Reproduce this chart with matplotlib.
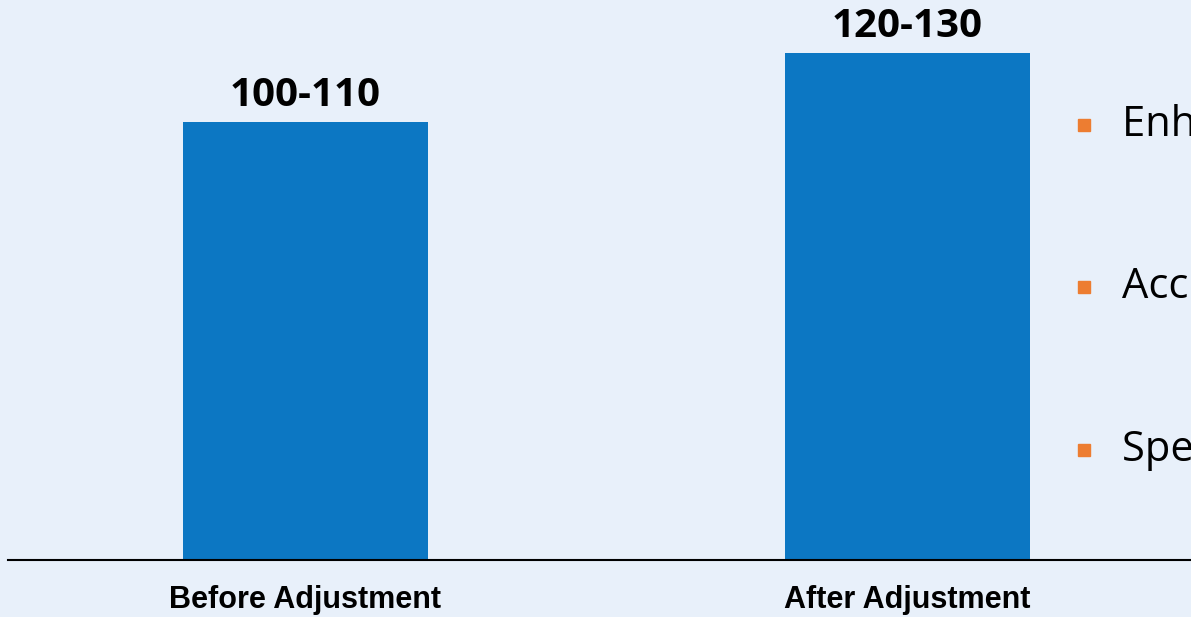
import matplotlib
matplotlib.use("Agg")
import matplotlib.pyplot as plt

# Datos del gráfico
categorias = ["Before Adjustment", "After Adjustment"]
valores = [105, 125]
etiquetas = ["100-110", "120-130"]
puntos = ["Enhanced stability", "Accurate positioning", "Speed improvement"]

fondo = "#E8F0FA"
azul = "#0C77C3"
naranja = "#ED7D31"
base = -22  # el eje no empieza en cero

fig = plt.figure(figsize=(11.91, 6.17), dpi=100)
fig.patch.set_facecolor(fondo)

# Ejes ocupando casi toda la figura
ax = fig.add_axes([8 / 1191, 57 / 617, 1183 / 1191, 560 / 617])
ax.set_facecolor(fondo)

x = list(range(len(categorias)))
alturas = [v - base for v in valores]
barras = ax.bar(x, alturas, bottom=base, width=0.407, color=azul, zorder=2)

ax.set_xlim(-0.494, 1.471)
ax.set_ylim(base, 140.4)

for b, v, txt in zip(barras, valores, etiquetas):
    ax.text(b.get_x() + b.get_width() / 2, v + 2.0, txt,
            ha="center", va="bottom", fontsize=29, fontweight="bold",
            family=["Open Sans", "DejaVu Sans"], color="black")

for s in ["top", "right", "left"]:
    ax.spines[s].set_visible(False)
ax.spines["bottom"].set_linewidth(1.5)
ax.set_yticks([])
ax.set_xticks(x)
ax.set_xticklabels(categorias, fontsize=22, fontweight="bold",
                   family=["Liberation Sans", "DejaVu Sans"])
ax.tick_params(axis="x", length=0, pad=18)

# Lista con viñetas a la derecha (recortada por el borde)
ys = [125, 287, 450]
for txt, yp in zip(puntos, ys):
    yf = 1 - yp / 617
    fig.patches.append(plt.Rectangle((1078 / 1191, yf - 6 / 617), 12 / 1191, 12 / 617,
                                     transform=fig.transFigure, color=naranja, figure=fig))
    fig.text(1122 / 1191, yf, txt, ha="left", va="center", fontsize=30,
             family=["Open Sans", "DejaVu Sans"], color="black")

fig.savefig("out.png", dpi=100, facecolor=fondo)
